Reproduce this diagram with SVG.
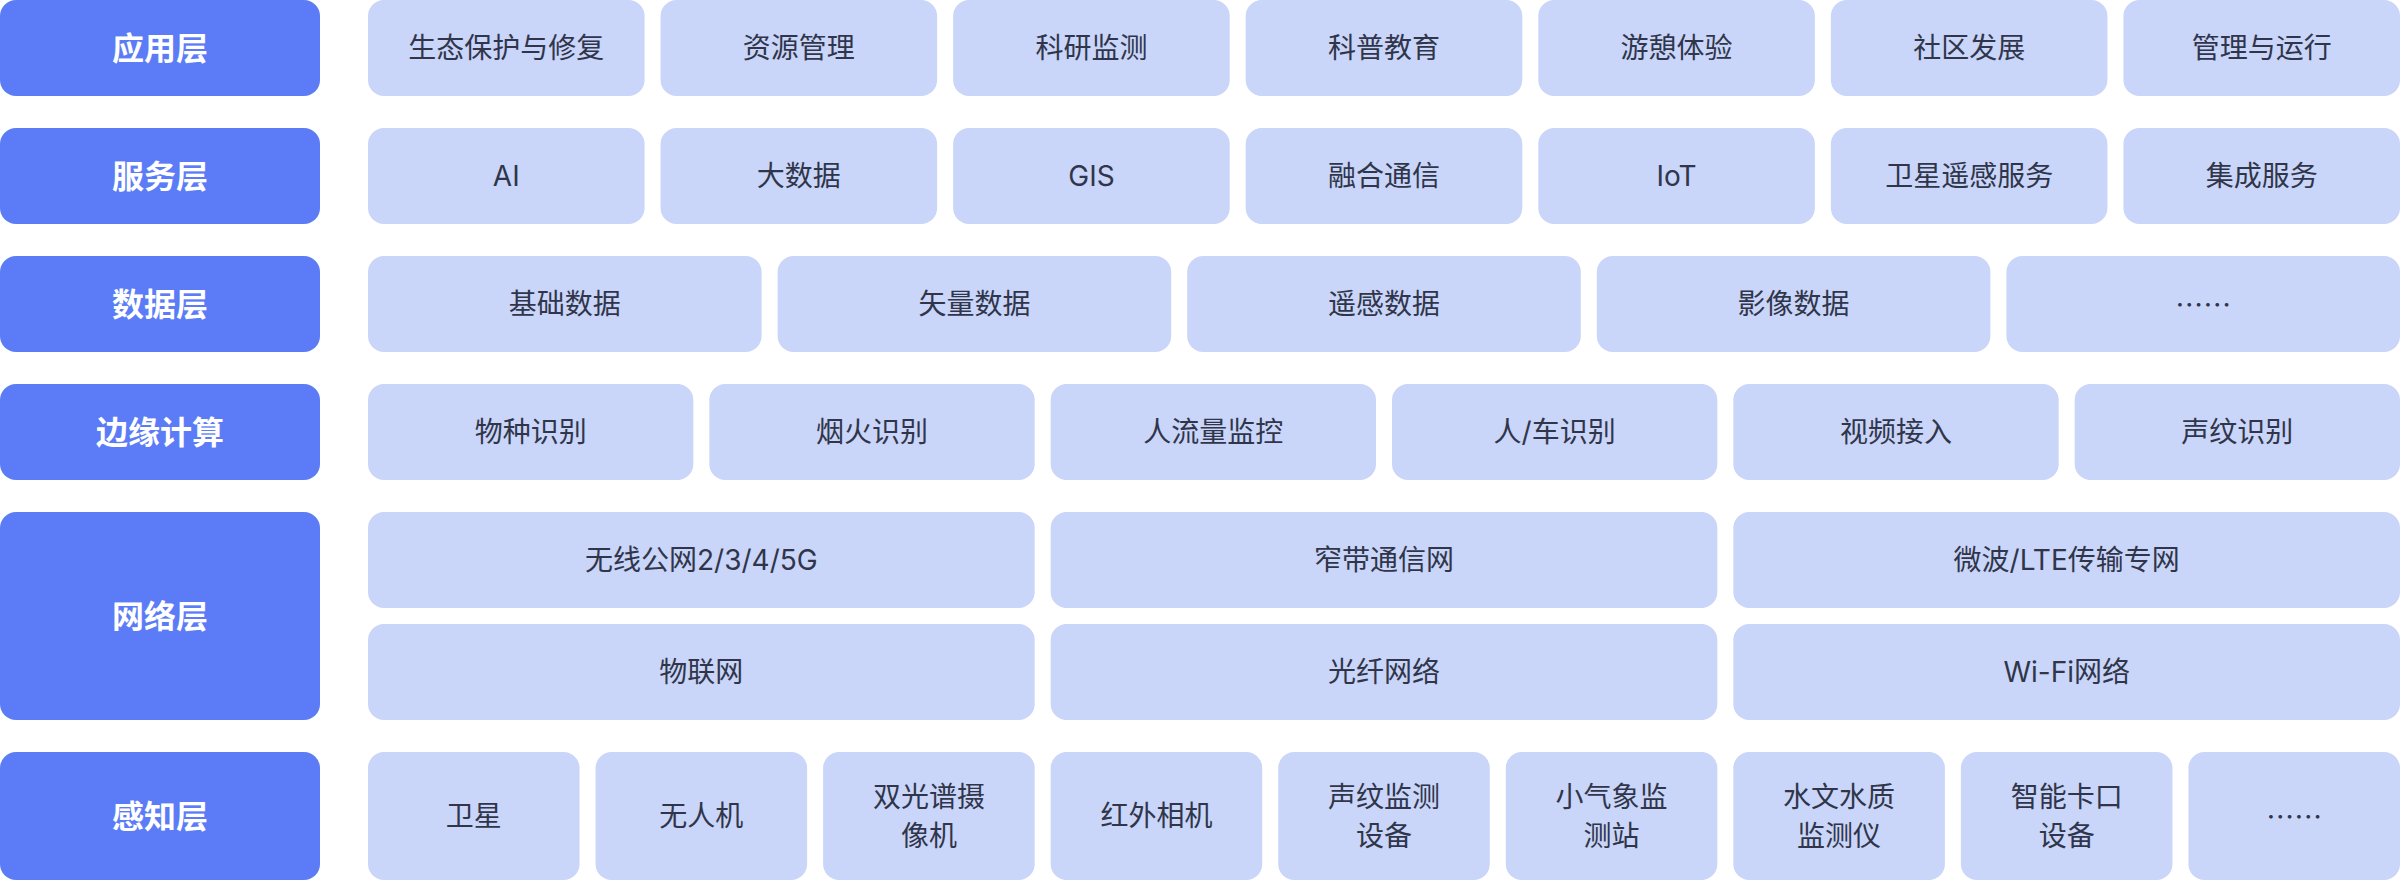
<svg xmlns="http://www.w3.org/2000/svg" width="2400" height="880" viewBox="0 0 2400 880">
<style>
.lb{fill:#5B7CF6}
.it{fill:#C9D5F9}
.lt{font-family:"Inter","Noto Sans CJK SC",sans-serif;font-size:32px;font-weight:700;fill:#FFFFFF;text-anchor:middle;dominant-baseline:central}
.t{font-family:"Inter","Noto Sans CJK SC",sans-serif;font-size:28px;fill:#30354A;text-anchor:middle;dominant-baseline:central}
.el{font-family:"Noto Sans CJK SC",sans-serif}
</style>
<rect width="2400" height="880" fill="#FFFFFF"/>
<g id="connectors"></g>
<!-- Labels -->
<g id="label-app"><rect class="lb" x="0" y="0" width="320" height="96" rx="16"/><text class="lt" x="160" y="48">应用层</text></g>
<g id="label-service"><rect class="lb" x="0" y="128" width="320" height="96" rx="16"/><text class="lt" x="160" y="176">服务层</text></g>
<g id="label-data"><rect class="lb" x="0" y="256" width="320" height="96" rx="16"/><text class="lt" x="160" y="304">数据层</text></g>
<g id="label-edge"><rect class="lb" x="0" y="384" width="320" height="96" rx="16"/><text class="lt" x="160" y="432">边缘计算</text></g>
<g id="label-net"><rect class="lb" x="0" y="512" width="320" height="208" rx="16"/><text class="lt" x="160" y="616">网络层</text></g>
<g id="label-sense"><rect class="lb" x="0" y="752" width="320" height="128" rx="16"/><text class="lt" x="160" y="816">感知层</text></g>
<!-- Row 1 -->
<g id="app-1"><rect class="it" x="368" y="0" width="276.57" height="96" rx="16"/><text class="t" x="506.29" y="48">生态保护与修复</text></g>
<g id="app-2"><rect class="it" x="660.57" y="0" width="276.57" height="96" rx="16"/><text class="t" x="798.86" y="48">资源管理</text></g>
<g id="app-3"><rect class="it" x="953.14" y="0" width="276.57" height="96" rx="16"/><text class="t" x="1091.43" y="48">科研监测</text></g>
<g id="app-4"><rect class="it" x="1245.71" y="0" width="276.57" height="96" rx="16"/><text class="t" x="1384" y="48">科普教育</text></g>
<g id="app-5"><rect class="it" x="1538.29" y="0" width="276.57" height="96" rx="16"/><text class="t" x="1676.57" y="48">游憩体验</text></g>
<g id="app-6"><rect class="it" x="1830.86" y="0" width="276.57" height="96" rx="16"/><text class="t" x="1969.14" y="48">社区发展</text></g>
<g id="app-7"><rect class="it" x="2123.43" y="0" width="276.57" height="96" rx="16"/><text class="t" x="2261.71" y="48">管理与运行</text></g>
<!-- Row 2 -->
<g id="svc-1"><rect class="it" x="368" y="128" width="276.57" height="96" rx="16"/><text class="t" x="506.29" y="176">AI</text></g>
<g id="svc-2"><rect class="it" x="660.57" y="128" width="276.57" height="96" rx="16"/><text class="t" x="798.86" y="176">大数据</text></g>
<g id="svc-3"><rect class="it" x="953.14" y="128" width="276.57" height="96" rx="16"/><text class="t" x="1091.43" y="176">GIS</text></g>
<g id="svc-4"><rect class="it" x="1245.71" y="128" width="276.57" height="96" rx="16"/><text class="t" x="1384" y="176">融合通信</text></g>
<g id="svc-5"><rect class="it" x="1538.29" y="128" width="276.57" height="96" rx="16"/><text class="t" x="1676.57" y="176">IoT</text></g>
<g id="svc-6"><rect class="it" x="1830.86" y="128" width="276.57" height="96" rx="16"/><text class="t" x="1969.14" y="176">卫星遥感服务</text></g>
<g id="svc-7"><rect class="it" x="2123.43" y="128" width="276.57" height="96" rx="16"/><text class="t" x="2261.71" y="176">集成服务</text></g>
<!-- Row 3 -->
<g id="data-1"><rect class="it" x="368" y="256" width="393.6" height="96" rx="16"/><text class="t" x="564.8" y="304">基础数据</text></g>
<g id="data-2"><rect class="it" x="777.6" y="256" width="393.6" height="96" rx="16"/><text class="t" x="974.4" y="304">矢量数据</text></g>
<g id="data-3"><rect class="it" x="1187.2" y="256" width="393.6" height="96" rx="16"/><text class="t" x="1384" y="304">遥感数据</text></g>
<g id="data-4"><rect class="it" x="1596.8" y="256" width="393.6" height="96" rx="16"/><text class="t" x="1793.6" y="304">影像数据</text></g>
<g id="data-5"><rect class="it" x="2006.4" y="256" width="393.6" height="96" rx="16"/><text class="t el" x="2203.2" y="304">……</text></g>
<!-- Row 4 -->
<g id="edge-1"><rect class="it" x="368" y="384" width="325.33" height="96" rx="16"/><text class="t" x="530.67" y="432">物种识别</text></g>
<g id="edge-2"><rect class="it" x="709.33" y="384" width="325.33" height="96" rx="16"/><text class="t" x="872" y="432">烟火识别</text></g>
<g id="edge-3"><rect class="it" x="1050.67" y="384" width="325.33" height="96" rx="16"/><text class="t" x="1213.33" y="432">人流量监控</text></g>
<g id="edge-4"><rect class="it" x="1392" y="384" width="325.33" height="96" rx="16"/><text class="t" x="1554.67" y="432">人/车识别</text></g>
<g id="edge-5"><rect class="it" x="1733.33" y="384" width="325.33" height="96" rx="16"/><text class="t" x="1896" y="432">视频接入</text></g>
<g id="edge-6"><rect class="it" x="2074.67" y="384" width="325.33" height="96" rx="16"/><text class="t" x="2237.33" y="432">声纹识别</text></g>
<!-- Network -->
<g id="net-1"><rect class="it" x="368" y="512" width="666.67" height="96" rx="16"/><text class="t" x="701.33" y="560">无线公网2/3/4/5G</text></g>
<g id="net-2"><rect class="it" x="1050.67" y="512" width="666.67" height="96" rx="16"/><text class="t" x="1384" y="560">窄带通信网</text></g>
<g id="net-3"><rect class="it" x="1733.33" y="512" width="666.67" height="96" rx="16"/><text class="t" x="2066.67" y="560">微波/LTE传输专网</text></g>
<g id="net-4"><rect class="it" x="368" y="624" width="666.67" height="96" rx="16"/><text class="t" x="701.33" y="672">物联网</text></g>
<g id="net-5"><rect class="it" x="1050.67" y="624" width="666.67" height="96" rx="16"/><text class="t" x="1384" y="672">光纤网络</text></g>
<g id="net-6"><rect class="it" x="1733.33" y="624" width="666.67" height="96" rx="16"/><text class="t" x="2066.67" y="672">Wi-Fi网络</text></g>
<!-- Sensing -->
<g id="sense-1"><rect class="it" x="368" y="752" width="211.56" height="128" rx="16"/><text class="t" x="473.78" y="816">卫星</text></g>
<g id="sense-2"><rect class="it" x="595.56" y="752" width="211.56" height="128" rx="16"/><text class="t" x="701.33" y="816">无人机</text></g>
<g id="sense-3"><rect class="it" x="823.11" y="752" width="211.56" height="128" rx="16"/><text class="t" x="928.89" y="797">双光谱摄</text><text class="t" x="928.89" y="836">像机</text></g>
<g id="sense-4"><rect class="it" x="1050.67" y="752" width="211.56" height="128" rx="16"/><text class="t" x="1156.44" y="816">红外相机</text></g>
<g id="sense-5"><rect class="it" x="1278.22" y="752" width="211.56" height="128" rx="16"/><text class="t" x="1384" y="797">声纹监测</text><text class="t" x="1384" y="836">设备</text></g>
<g id="sense-6"><rect class="it" x="1505.78" y="752" width="211.56" height="128" rx="16"/><text class="t" x="1611.56" y="797">小气象监</text><text class="t" x="1611.56" y="836">测站</text></g>
<g id="sense-7"><rect class="it" x="1733.33" y="752" width="211.56" height="128" rx="16"/><text class="t" x="1839.11" y="797">水文水质</text><text class="t" x="1839.11" y="836">监测仪</text></g>
<g id="sense-8"><rect class="it" x="1960.89" y="752" width="211.56" height="128" rx="16"/><text class="t" x="2066.67" y="797">智能卡口</text><text class="t" x="2066.67" y="836">设备</text></g>
<g id="sense-9"><rect class="it" x="2188.44" y="752" width="211.56" height="128" rx="16"/><text class="t el" x="2294.22" y="816">……</text></g>
</svg>
